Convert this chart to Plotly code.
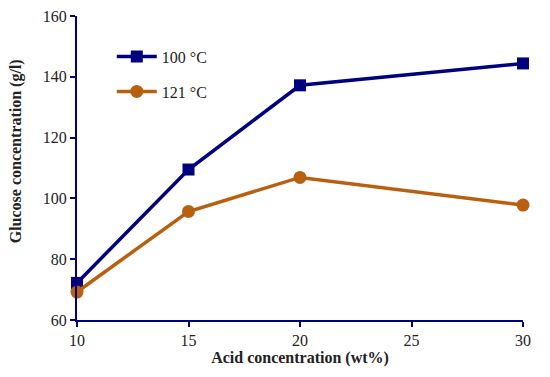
import plotly.graph_objects as go

acid = [10, 15, 20, 30]
glucose_100 = [72.2, 109.5, 137.2, 144.4]
glucose_121 = [69.2, 95.7, 106.9, 97.8]
series_names = ["100 °C", "121 °C"]
x_ticks = [10, 15, 20, 25, 30]
y_ticks = [60, 80, 100, 120, 140, 160]

navy = "#00007F"
orange = "#B8600F"
font_family = "Liberation Serif"

fig = go.Figure()
fig.add_trace(go.Scatter(
    x=acid, y=glucose_100, name=series_names[0], mode="lines+markers",
    line=dict(color=navy, width=3.5),
    marker=dict(symbol="square", size=12, color=navy),
    cliponaxis=False, legendgroup="a"))
fig.add_trace(go.Scatter(
    x=acid, y=glucose_121, name=series_names[1], mode="lines+markers",
    line=dict(color=orange, width=3.5),
    marker=dict(symbol="circle", size=13, color=orange),
    cliponaxis=False, legendgroup="b"))

fig.update_layout(
    width=550, height=377,
    margin=dict(l=69, r=35, t=8, b=65, autoexpand=False),
    paper_bgcolor="white", plot_bgcolor="white",
    font=dict(family=font_family, size=16, color="#222222"),
    showlegend=True,
    legend=dict(x=0.078, y=0.922, xanchor="left", yanchor="top", itemwidth=40,
                bgcolor="rgba(0,0,0,0)", tracegroupgap=11,
                font=dict(family=font_family, size=16, color="#222222")),
    xaxis=dict(range=[10, 30], tickvals=x_ticks, showgrid=False, zeroline=False,
               automargin=False, ticklabeloverflow="allow",
               showline=True, linecolor=navy, linewidth=2,
               ticks="outside", ticklen=5, tickwidth=2, tickcolor=navy,
               title=dict(text="<b>Acid concentration (wt%)</b>", standoff=2,
                          font=dict(size=16))),
    yaxis=dict(range=[60, 160], tickvals=y_ticks, showgrid=False, zeroline=False,
               automargin=False, ticklabeloverflow="allow",
               showline=True, linecolor=navy, linewidth=2,
               ticks="outside", ticklen=5, tickwidth=2, tickcolor=navy),
    annotations=[dict(text="<b>Glucose concentration (g/l)</b>", textangle=-90,
                      xref="paper", yref="paper", x=-0.136, y=0.556,
                      xanchor="center", yanchor="middle", showarrow=False,
                      font=dict(family=font_family, size=16, color="#222222"))],
)

fig.write_html("out.html")
